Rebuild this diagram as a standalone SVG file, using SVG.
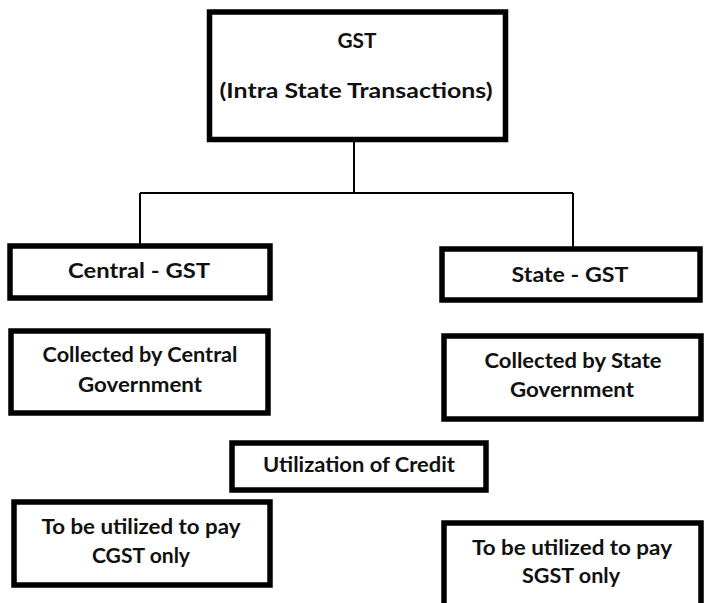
<svg xmlns="http://www.w3.org/2000/svg" width="710" height="603" viewBox="0 0 710 603">
<style>
.box{fill:#fff;stroke:#000;stroke-width:5.5}
.con{fill:none;stroke:#000;stroke-width:2}
text{font-family:Lato,"Liberation Sans",sans-serif;font-weight:bold;font-size:20px;fill:#111;text-anchor:middle}
</style>
<rect width="710" height="603" fill="#fff"/>
<g id="connectors">
<path class="con" d="M354 140V193M140 193H573M140 193V244M573 193V247"/>
</g>
<g id="gst">
<rect class="box" x="209.5" y="12" width="296" height="127.5"/>
<text x="357" y="48" textLength="39" lengthAdjust="spacingAndGlyphs">GST</text>
<text x="356" y="98" textLength="273" lengthAdjust="spacingAndGlyphs">(Intra State Transactions)</text>
</g>
<g id="cgst">
<rect class="box" x="10" y="246" width="260" height="52"/>
<text x="139" y="278" textLength="142" lengthAdjust="spacingAndGlyphs">Central - GST</text>
</g>
<g id="sgst">
<rect class="box" x="442" y="249" width="258" height="51"/>
<text x="570" y="282" textLength="117" lengthAdjust="spacingAndGlyphs">State - GST</text>
</g>
<g id="collected-central">
<rect class="box" x="11" y="331" width="257" height="82"/>
<text x="140" y="362" textLength="195" lengthAdjust="spacingAndGlyphs">Collected by Central</text>
<text x="140" y="392" textLength="124" lengthAdjust="spacingAndGlyphs">Government</text>
</g>
<g id="collected-state">
<rect class="box" x="444" y="336" width="257" height="83"/>
<text x="573" y="368" textLength="177" lengthAdjust="spacingAndGlyphs">Collected by State</text>
<text x="572" y="397" textLength="124" lengthAdjust="spacingAndGlyphs">Government</text>
</g>
<g id="utilization">
<rect class="box" x="232" y="443" width="254" height="47"/>
<text x="359" y="472" textLength="192" lengthAdjust="spacingAndGlyphs">Utilization of Credit</text>
</g>
<g id="cgst-use">
<rect class="box" x="14" y="502" width="256" height="83"/>
<text x="141" y="534" textLength="199" lengthAdjust="spacingAndGlyphs">To be utilized to pay</text>
<text x="141" y="563" textLength="98" lengthAdjust="spacingAndGlyphs">CGST only</text>
</g>
<g id="sgst-use">
<rect class="box" x="444" y="523" width="257" height="90"/>
<text x="572" y="555" textLength="200" lengthAdjust="spacingAndGlyphs">To be utilized to pay</text>
<text x="571" y="583" textLength="98" lengthAdjust="spacingAndGlyphs">SGST only</text>
</g>
</svg>
